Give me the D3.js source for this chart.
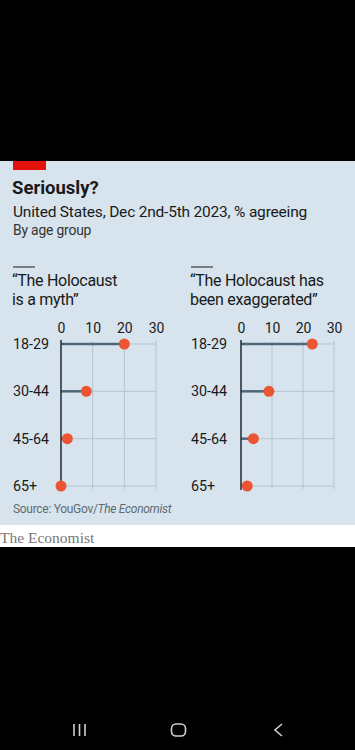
<!DOCTYPE html>
<html><head><meta charset="utf-8">
<script src="https://cdn.jsdelivr.net/npm/d3@7"></script>
<style>
html,body{margin:0;padding:0;background:#000;}
svg{display:block;}
</style></head>
<body>
<script>
const ageGroups = ["18-29", "30-44", "45-64", "65+"];
const mythValues = [20, 8, 2, 0];
const exaggeratedValues = [23, 9, 4, 2];
const tickValues = [0, 10, 20, 30];
const panelTitles = [["“The Holocaust", "is a myth”"], ["“The Holocaust has", "been exaggerated”"]];

const W = 355, H = 750;
const svg = d3.select("body").append("svg").attr("width", W).attr("height", H);
svg.append("rect").attr("width", W).attr("height", H).attr("fill", "#000");

// chart panel
svg.append("rect").attr("x", 0).attr("y", 161).attr("width", W).attr("height", 364).attr("fill", "#d7e4ed");
svg.append("rect").attr("x", 0).attr("y", 525).attr("width", W).attr("height", 22).attr("fill", "#fff");
svg.append("rect").attr("x", 13).attr("y", 161).attr("width", 33).attr("height", 9).attr("fill", "#e3120b");

const font = "Roboto, 'Open Sans', sans-serif";
svg.append("text").attr("x", 12).attr("y", 194).text("Seriously?")
  .attr("font-family", font).attr("font-weight", 700).attr("font-size", 18.5).attr("fill", "#1a1a1a");
svg.append("text").attr("x", 13).attr("y", 217).text("United States, Dec 2nd-5th 2023, % agreeing")
  .attr("font-family", font).attr("font-size", 15.5).attr("fill", "#1a1a1a").attr("letter-spacing", -0.2);
svg.append("text").attr("x", 13).attr("y", 235).text("By age group")
  .attr("font-family", font).attr("font-size", 13.9).attr("fill", "#333").attr("letter-spacing", -0.2);

const y = d3.scalePoint().domain(ageGroups).range([344, 486]);

function panel(x0, axisX0, axisX1, values, titleLines) {
  const g = svg.append("g");
  g.append("line").attr("x1", x0).attr("x2", x0 + 22).attr("y1", 267).attr("y2", 267)
    .attr("stroke", "#1a1a1a").attr("stroke-width", 1);
  titleLines.forEach((t, i) => {
    g.append("text").attr("x", x0 - 1).attr("y", 286 + i * 19).text(t)
      .attr("font-family", font).attr("font-size", 16).attr("fill", "#1a1a1a").attr("letter-spacing", -0.3);
  });
  const x = d3.scaleLinear().domain([0, 30]).range([axisX0, axisX1]);
  // vertical gridlines
  g.selectAll(".vg").data(tickValues.slice(1)).join("line")
    .attr("x1", d => x(d)).attr("x2", d => x(d)).attr("y1", 341).attr("y2", 489)
    .attr("stroke", "#b4c4cf").attr("stroke-width", 1);
  // horizontal gridlines
  g.selectAll(".hg").data(ageGroups).join("line")
    .attr("x1", x(0)).attr("x2", x(30)).attr("y1", d => y(d)).attr("y2", d => y(d))
    .attr("stroke", "#b4c4cf").attr("stroke-width", 1);
  // tick labels via axis
  const ax = g.append("g").attr("transform", "translate(0,338)")
    .call(d3.axisTop(x).tickValues(tickValues).tickSize(0).tickPadding(5));
  ax.select(".domain").remove();
  ax.selectAll("text").attr("font-family", font).attr("font-size", 14).attr("fill", "#1a1a1a");
  // row labels
  g.selectAll(".rl").data(ageGroups).join("text")
    .attr("x", x0).attr("y", d => y(d) + 5).text(d => d)
    .attr("font-family", font).attr("font-size", 14.3).attr("fill", "#1a1a1a");
  // stems
  g.selectAll(".st").data(values).join("line")
    .attr("x1", x(0)).attr("x2", d => x(d))
    .attr("y1", (d, i) => y(ageGroups[i])).attr("y2", (d, i) => y(ageGroups[i]))
    .attr("stroke", "#4f6778").attr("stroke-width", 2.5);
  // zero axis
  g.append("line").attr("x1", x(0)).attr("x2", x(0)).attr("y1", 340).attr("y2", 490)
    .attr("stroke", "#1f2a33").attr("stroke-width", 1.5);
  // dots
  g.selectAll(".dt").data(values).join("circle")
    .attr("cx", d => x(d)).attr("cy", (d, i) => y(ageGroups[i])).attr("r", 5.5)
    .attr("fill", "#ed5433");
}
panel(13, 61, 156, mythValues, panelTitles[0]);
panel(191, 241, 334, exaggeratedValues, panelTitles[1]);

const src = svg.append("text").attr("x", 13).attr("y", 513)
  .attr("font-family", font).attr("font-size", 12).attr("fill", "#5f6b73").attr("letter-spacing", -0.3);
src.append("tspan").text("Source: YouGov/");
src.append("tspan").attr("font-style", "italic").text("The Economist");

svg.append("text").attr("x", 0).attr("y", 543).text("The Economist")
  .attr("font-family", "'Liberation Serif', 'DejaVu Serif', serif").attr("font-size", 15.5).attr("fill", "#777");

// phone nav bar
const nav = svg.append("g").attr("stroke", "#d0d0d0").attr("stroke-width", 1.6).attr("fill", "none");
[74, 79.5, 85].forEach(xx => nav.append("line").attr("x1", xx).attr("x2", xx).attr("y1", 724).attr("y2", 736));
nav.append("rect").attr("x", 171.5).attr("y", 724).attr("width", 14).attr("height", 12).attr("rx", 4.5);
nav.append("polyline").attr("points", "282,724 275,730 282,736");
</script>
</body></html>
